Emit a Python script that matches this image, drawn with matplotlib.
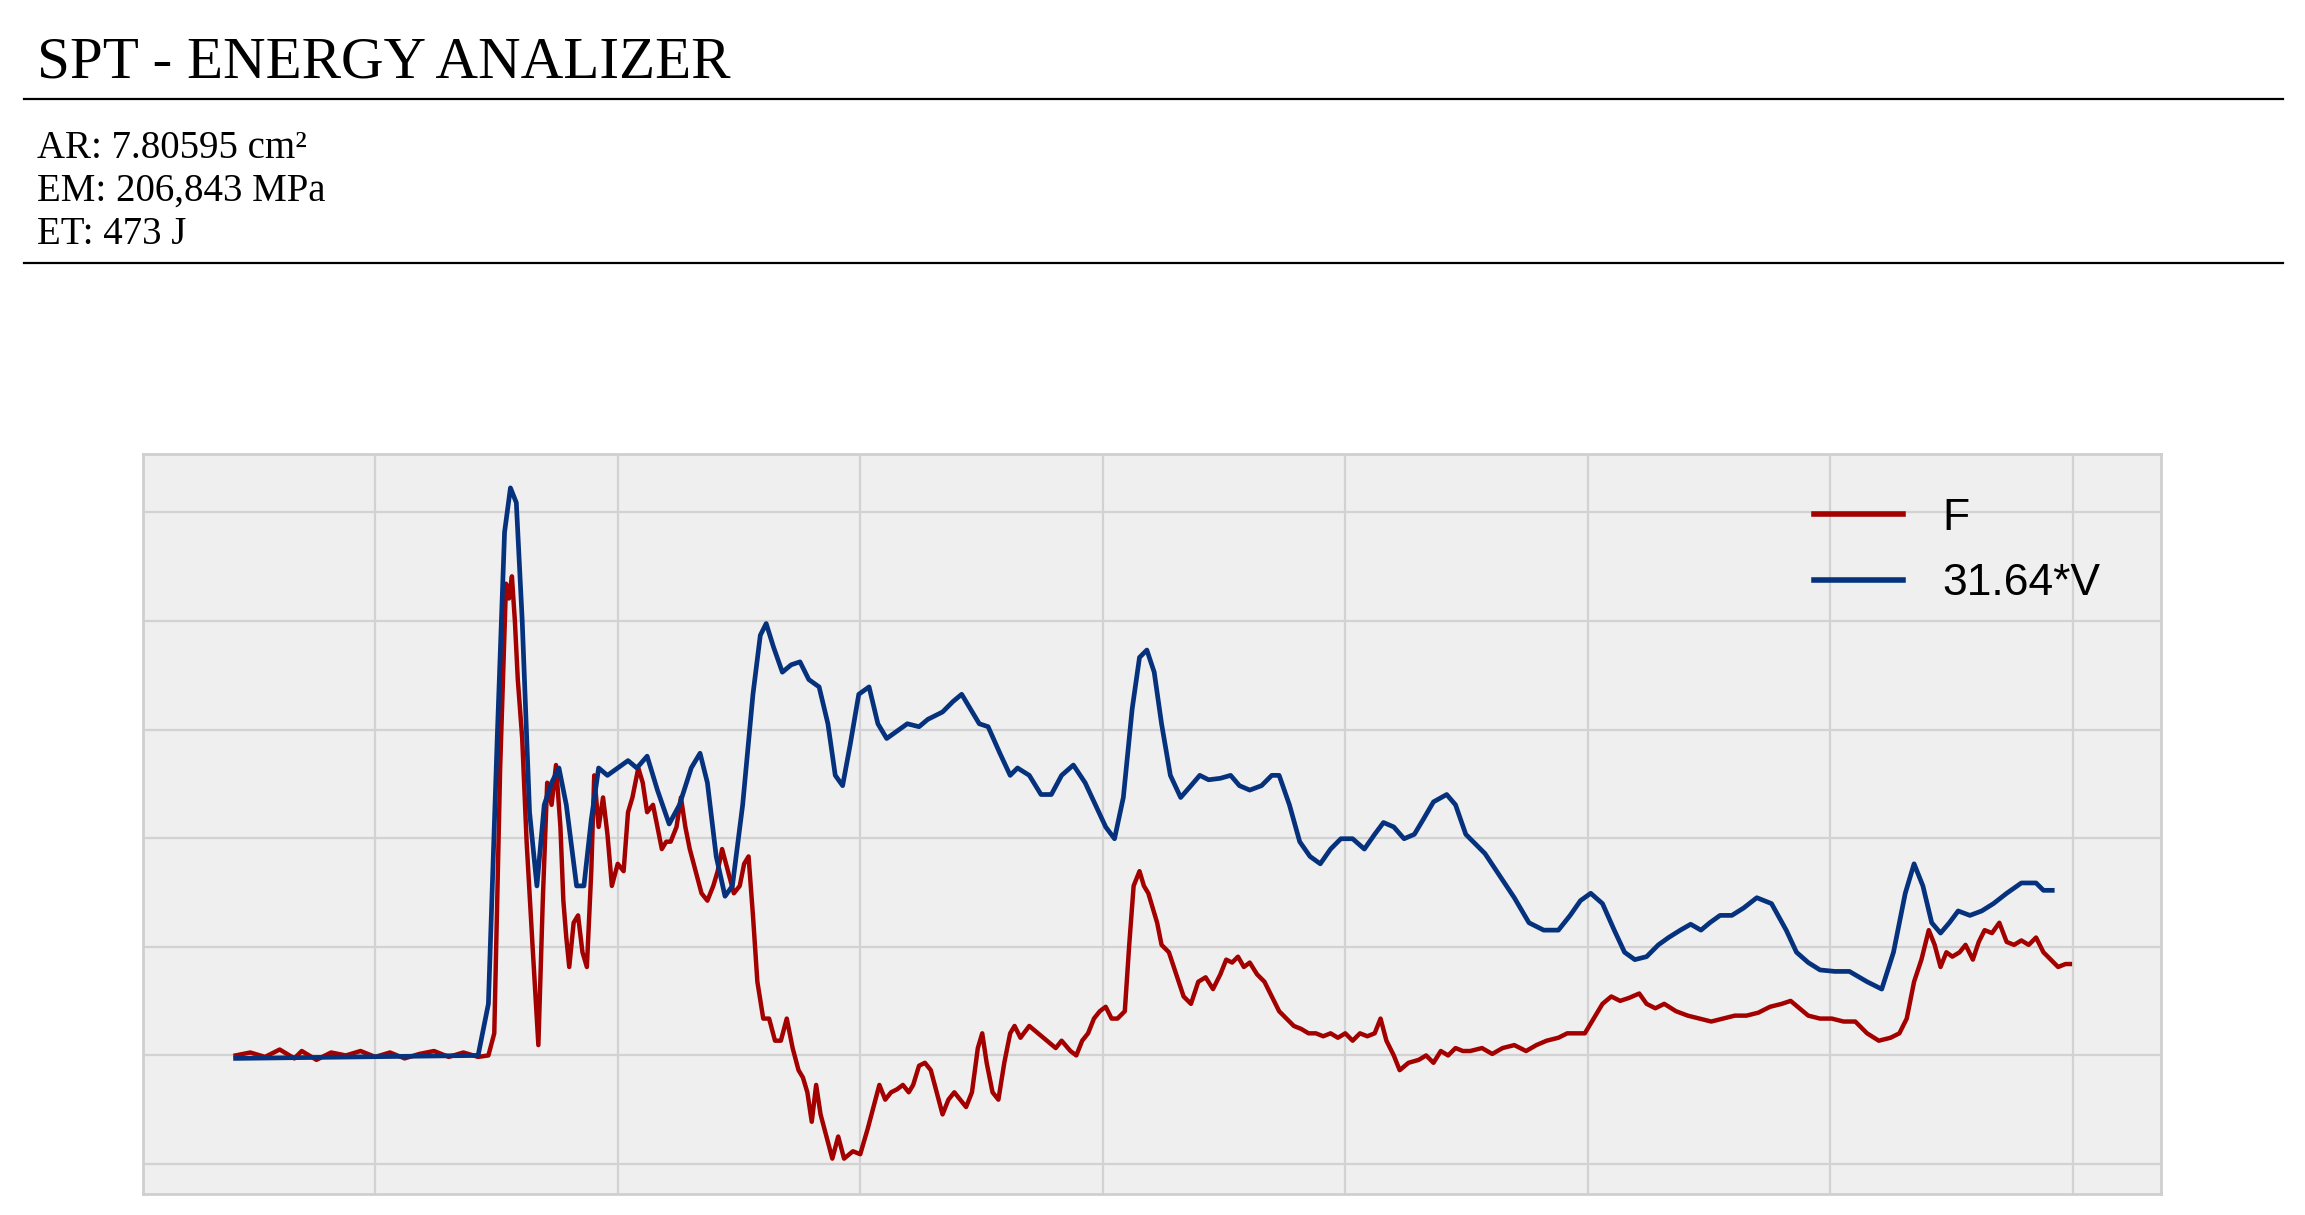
import matplotlib
matplotlib.use("Agg")
from matplotlib import pyplot as plt
from matplotlib.lines import Line2D

TITLE = "SPT - ENERGY ANALIZER"
INFO = ["AR: 7.80595 cm²", "EM: 206,843 MPa", "ET: 473 J"]
LABEL_F = "F"
LABEL_V = "31.64*V"

# force trace (time, value)
F_POINTS = [
    (0, 0), (10, 2), (20, -1), (30, 4), (40, -2), (45, 3), (55, -3), (65, 2), (75, 0), (85, 3),
    (95, -1), (105, 2), (115, -2), (125, 1), (135, 3), (145, -1), (155, 2), (165, -1), (172, 0),
    (176, 15), (180, 195), (184, 320), (186, 310), (188, 325), (190, 295), (192, 255), (195, 215),
    (198, 145), (202, 75), (206, 7), (209, 105), (212, 185), (215, 170), (218, 197), (221, 155),
    (223, 105), (225, 80), (227, 60), (230, 90), (233, 95), (236, 70), (239, 60), (242, 125),
    (244, 190), (247, 155), (250, 175), (253, 150), (256, 115), (260, 130), (264, 125), (267, 165),
    (270, 175), (274, 195), (277, 185), (280, 165), (284, 170), (287, 155), (290, 140), (293, 145),
    (296, 145), (300, 155), (303, 175), (306, 155), (309, 140), (313, 125), (317, 110), (321, 105),
    (325, 115), (328, 125), (331, 140), (335, 125), (339, 110), (343, 115), (346, 130), (349, 135),
    (352, 95), (355, 50), (359, 25), (363, 25), (367, 10), (371, 10), (375, 25), (379, 5), (383, -10),
    (386, -15), (389, -25), (392, -45), (395, -20), (398, -40), (402, -55), (406, -70), (410, -55),
    (414, -70), (420, -65), (425, -67), (430, -50), (434, -35), (438, -20), (442, -30), (446, -25),
    (450, -23), (454, -20), (458, -25), (461, -20), (465, -7), (469, -5), (473, -10), (477, -25),
    (481, -40), (485, -30), (489, -25), (493, -30), (497, -35), (501, -25), (505, 5), (508, 15),
    (511, -5), (515, -25), (519, -30), (523, -5), (527, 15), (530, 20), (534, 12), (540, 20),
    (546, 15), (552, 10), (558, 5), (562, 10), (568, 3), (572, 0), (576, 10), (580, 15), (584, 25),
    (588, 30), (592, 33), (596, 25), (600, 25), (605, 30), (608, 75), (611, 115), (615, 125),
    (618, 115), (621, 110), (624, 100), (627, 90), (630, 75), (635, 70), (640, 55), (645, 40),
    (650, 35), (655, 50), (660, 53), (665, 45), (670, 55), (674, 65), (678, 63), (682, 67), (686, 60),
    (690, 63), (695, 55), (700, 50), (705, 40), (710, 30), (715, 25), (720, 20), (725, 18), (730, 15),
    (735, 15), (740, 13), (745, 15), (750, 12), (755, 15), (760, 10), (765, 15), (770, 13), (775, 15),
    (779, 25), (783, 10), (788, 0), (792, -10), (798, -5), (805, -3), (810, 0), (815, -5), (820, 3),
    (825, 0), (830, 5), (835, 3), (840, 3), (848, 5), (855, 1), (862, 5), (870, 7), (878, 3),
    (885, 7), (892, 10), (900, 12), (906, 15), (912, 15), (918, 15), (924, 25), (930, 35), (936, 40),
    (942, 37), (948, 39), (955, 42), (960, 35), (966, 32), (972, 35), (980, 30), (988, 27), (996, 25),
    (1004, 23), (1012, 25), (1020, 27), (1028, 27), (1036, 29), (1044, 33), (1052, 35), (1058, 37),
    (1064, 32), (1070, 27), (1078, 25), (1086, 25), (1094, 23), (1102, 23), (1110, 15), (1118, 10),
    (1126, 12), (1132, 15), (1137, 25), (1142, 50), (1147, 65), (1152, 85), (1156, 75), (1160, 60),
    (1164, 70), (1168, 67), (1173, 70), (1177, 75), (1182, 65), (1186, 77), (1190, 85), (1195, 83),
    (1200, 90), (1205, 77), (1210, 75), (1215, 78), (1220, 75), (1225, 80), (1230, 70), (1235, 65),
    (1240, 60), (1245, 62), (1248, 62),
]

# scaled velocity trace
V_POINTS = [
    (0, -2), (165, 0), (172, 35), (178, 215), (183, 355), (187, 385), (191, 375), (195, 295),
    (200, 165), (205, 115), (210, 170), (215, 185), (220, 195), (225, 170), (232, 115), (237, 115),
    (242, 160), (247, 195), (253, 190), (260, 195), (267, 200), (273, 195), (280, 203), (287, 180),
    (295, 157), (302, 170), (310, 195), (316, 205), (321, 185), (327, 135), (333, 108), (338, 115),
    (345, 170), (352, 245), (357, 285), (361, 293), (366, 277), (372, 260), (378, 265), (384, 267),
    (390, 255), (397, 250), (403, 225), (408, 190), (413, 183), (418, 210), (424, 245), (431, 250),
    (437, 225), (443, 215), (450, 220), (457, 225), (465, 223), (471, 228), (481, 233), (488, 240),
    (494, 245), (500, 235), (506, 225), (512, 223), (520, 205), (527, 190), (532, 195), (540, 190),
    (548, 177), (555, 177), (562, 190), (570, 197), (578, 185), (585, 170), (592, 155), (598, 147),
    (604, 175), (610, 235), (615, 270), (620, 275), (625, 260), (630, 225), (636, 190), (643, 175),
    (650, 183), (656, 190), (662, 187), (670, 188), (677, 190), (683, 183), (690, 180), (698, 183),
    (705, 190), (710, 190), (717, 170), (724, 145), (731, 135), (738, 130), (745, 140), (752, 147),
    (760, 147), (768, 140), (775, 150), (781, 158), (788, 155), (795, 147), (802, 150), (808, 160),
    (815, 172), (824, 177), (830, 170), (837, 150), (842, 145), (850, 137), (858, 125), (870, 107),
    (880, 90), (890, 85), (900, 85), (908, 95), (915, 105), (922, 110), (930, 103), (938, 85),
    (945, 70), (952, 65), (960, 67), (968, 75), (975, 80), (983, 85), (990, 89), (997, 85),
    (1003, 90), (1010, 95), (1018, 95), (1026, 100), (1035, 107), (1045, 103), (1055, 85),
    (1062, 70), (1070, 63), (1078, 58), (1088, 57), (1098, 57), (1110, 50), (1120, 45), (1128, 70),
    (1136, 110), (1142, 130), (1148, 115), (1154, 90), (1160, 83), (1166, 90), (1172, 98),
    (1180, 95), (1188, 98), (1196, 103), (1205, 110), (1215, 117), (1225, 117), (1230, 112),
    (1236, 112),
]

fx, fy = zip(*F_POINTS)
vx, vy = zip(*V_POINTS)

fig = plt.figure(figsize=(23.05, 12.15), dpi=100)

# header block
fig.text(37 / 2305, 1 - 77 / 1215, TITLE, family="Liberation Serif", fontsize=42.5, va="baseline")
for i, line in enumerate(INFO):
    fig.text(37 / 2305, 1 - (158 + 43 * i) / 1215, line, family="Liberation Serif",
             fontsize=28, va="baseline")
for yy in (99, 263):
    fig.add_artist(Line2D([24 / 2305, 2283 / 2305], [1 - yy / 1215] * 2, color="black", lw=1.6))

ax = fig.add_axes([143 / 2305, 1 - 1194 / 1215, 2018 / 2305, 740 / 1215])
ax.set_facecolor("#efefef")
ax.plot(fx, fy, color="#a30000", lw=3.2, label=LABEL_F)
ax.plot(vx, vy, color="#06327d", lw=3.4, label=LABEL_V)

ax.set_xlim(-63, 1310)
ax.set_ylim(-94, 408)
ax.set_xticks([95 + 165 * k for k in range(8)])
ax.set_yticks([73.7 * k for k in range(-1, 6)])
ax.tick_params(length=0, labelbottom=False, labelleft=False)
ax.grid(True, color="#d2d2d2", lw=1.6)
ax.set_axisbelow(True)
for s in ax.spines.values():
    s.set_color("#cfcfcf")
    s.set_linewidth(2)

leg = ax.legend(loc="upper right", frameon=False, prop={"family": "Liberation Sans", "size": 32},
                handlelength=2.0, handletextpad=0.9, labelspacing=0.55,
                bbox_to_anchor=(0.99, 0.995))
for h in leg.get_lines():
    h.set_linewidth(4)

plt.savefig("out.png")
plt.close()
